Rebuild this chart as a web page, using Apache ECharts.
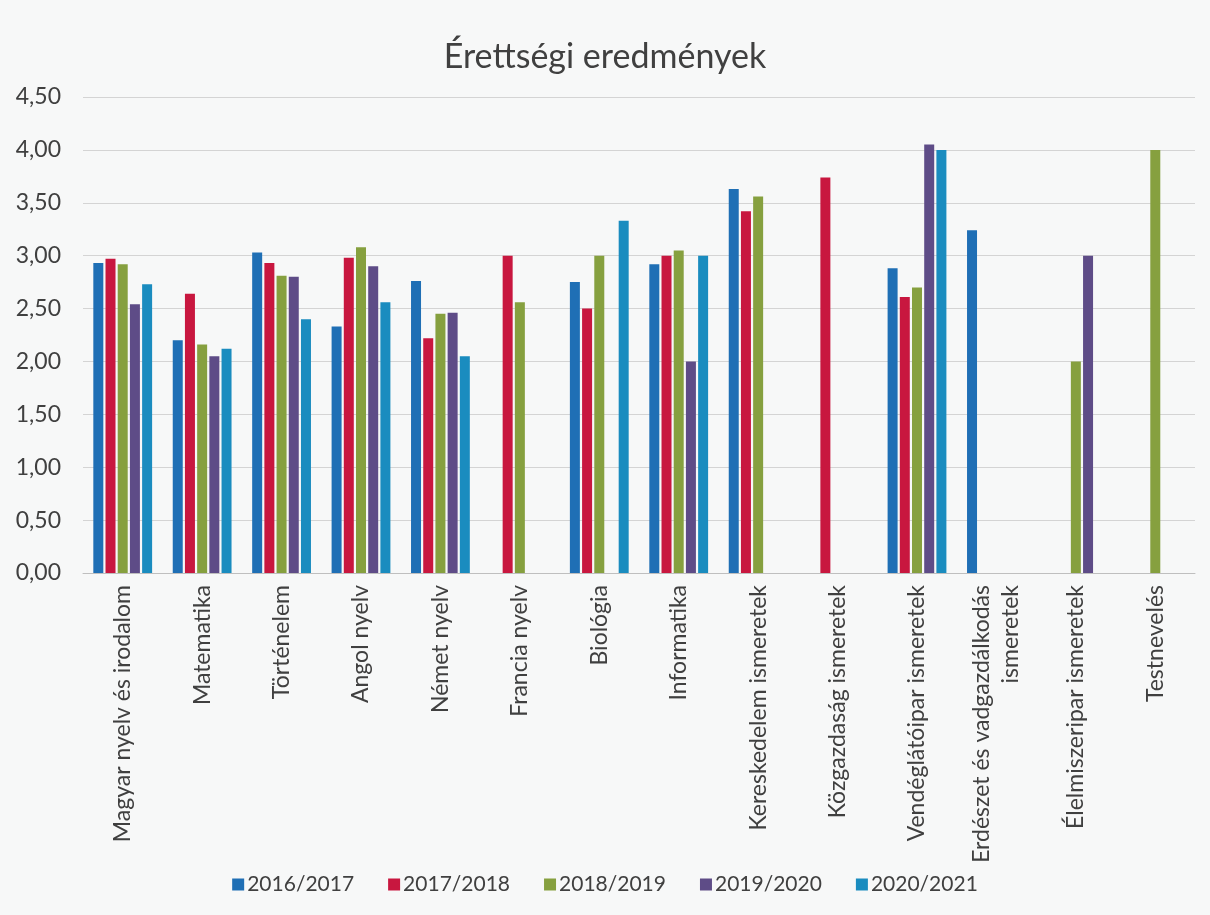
<!DOCTYPE html>
<html>
<head>
<meta charset="utf-8">
<script src="https://cdn.jsdelivr.net/npm/echarts@6/dist/echarts.min.js"></script>
<style>
  html, body { margin: 0; padding: 0; background: #f7f8f8; }
  #chart { width: 1210px; height: 915px; }
</style>
</head>
<body>
<div id="chart"></div>
<script>
const categories = [
  'Magyar nyelv és irodalom', 'Matematika', 'Történelem', 'Angol nyelv', 'Német nyelv',
  'Francia nyelv', 'Biológia', 'Informatika', 'Kereskedelem ismeretek', 'Közgazdaság ismeretek',
  'Vendéglátóipar ismeretek', 'Erdészet és vadgazdálkodás\nismeretek', 'Élelmiszeripar ismeretek', 'Testnevelés'
]
const seriesNames = ['2016/2017', '2017/2018', '2018/2019', '2019/2020', '2020/2021']
const v2016 = [2.93, 2.20, 3.03, 2.33, 2.76, null, 2.75, 2.92, 3.63, null, 2.88, 3.24, null, null]
const v2017 = [2.97, 2.64, 2.93, 2.98, 2.22, 3.00, 2.50, 3.00, 3.42, 3.74, 2.61, null, null, null]
const v2018 = [2.92, 2.16, 2.81, 3.08, 2.45, 2.56, 3.00, 3.05, 3.56, null, 2.70, null, 2.00, 4.00]
const v2019 = [2.54, 2.05, 2.80, 2.90, 2.46, null, null, 2.00, null, null, 4.05, null, 3.00, null]
const v2020 = [2.73, 2.12, 2.40, 2.56, 2.05, null, 3.33, 3.00, null, null, 4.00, null, null, null]
const colors = ['#1f6fb5', '#c8173f', '#86a03f', '#5e4c87', '#1a8cbf']

const allValues = [v2016, v2017, v2018, v2019, v2020]
const series = allValues.map((d, i) => ({
  name: seriesNames[i],
  type: 'bar',
  data: d,
  barWidth: 10,
  barGap: '22%',
  itemStyle: { color: colors[i] }
}))

const chart = echarts.init(document.getElementById('chart'))
chart.setOption({
  backgroundColor: '#f7f8f8',
  textStyle: { fontFamily: 'Lato' },
  title: {
    text: 'Érettségi eredmények',
    left: 'center',
    top: 35,
    textStyle: { fontFamily: 'Lato', fontSize: 34, fontWeight: 'normal', color: '#404040' }
  },
  legend: {
    bottom: 15,
    left: 'center',
    itemWidth: 12,
    itemHeight: 12,
    itemGap: 34,
    icon: 'rect',
    textStyle: { fontSize: 21, color: '#404040', padding: [0, 0, 0, -2] },
    data: seriesNames
  },
  grid: { left: 83, right: 15, top: 97, bottom: 342, containLabel: false },
  xAxis: {
    type: 'category',
    data: categories,
    axisTick: { show: false },
    axisLine: { lineStyle: { color: '#bfbfbf' } },
    axisLabel: {
      rotate: 90,
      interval: 0,
      margin: 12,
      fontSize: 23,
      color: '#404040',
      lineHeight: 29
    }
  },
  yAxis: {
    type: 'value',
    min: 0,
    max: 4.5,
    interval: 0.5,
    axisLine: { show: false },
    axisTick: { show: false },
    splitLine: { lineStyle: { color: '#d4d4d4' } },
    axisLabel: {
      fontSize: 23,
      color: '#404040',
      margin: 22,
      formatter: v => v.toFixed(2).replace('.', ',')
    }
  },
  series: series
})
</script>
</body>
</html>
